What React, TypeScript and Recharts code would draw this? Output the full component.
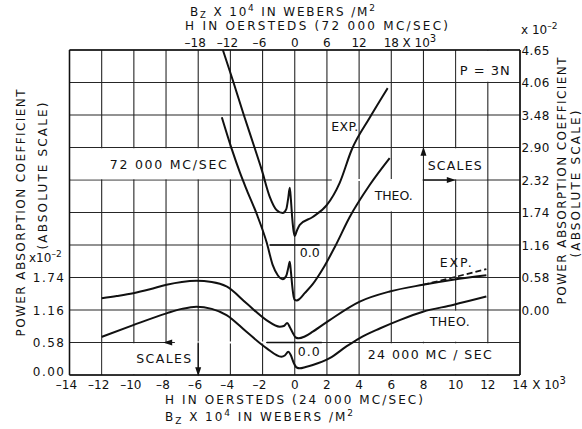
import React from 'react';
import {
  ComposedChart, Line, XAxis, YAxis, CartesianGrid,
  ReferenceArea, ReferenceLine, ReferenceDot,
} from 'recharts';

// ---------- axes ----------
const bottomTicks = [-14, -12, -10, -8, -6, -4, -2, 0, 2, 4, 6, 8, 10, 12, 14]; // H kOe (24 000 Mc/sec)
const topTicks = [-18, -12, -6, 0, 6, 12, 18]; // H kOe (72 000 Mc/sec)
const leftTicks = [0, 0.58, 1.16, 1.74]; // x10^-2, 24 000 Mc/sec scale
const rightTicks = [-1.16, -0.58, 0, 0.58, 1.16, 1.74, 2.32, 2.9, 3.48, 4.06, 4.64]; // x10^-2, 72 000 Mc/sec scale
const rightTickText: Record<string, string> = { '4.64': '4.65' };

// ---------- 72 000 Mc/sec (top H axis, right scale) ----------
const exp72: [number, number][] = [
  [-13.4, 4.64], [-11.55, 4.1], [-9.5, 3.48], [-7.64, 2.94], [-6.15, 2.5], [-4.66, 2.02],
  [-3.35, 1.78], [-2.24, 1.73], [-1.58, 1.8], [-1.21, 2.0], [-0.93, 2.18], [-0.71, 1.96],
  [-0.47, 1.64], [-0.19, 1.39], [0, 1.32], [0.37, 1.41], [0.93, 1.52], [3.35, 1.66],
  [5.96, 1.87], [8.38, 2.27], [10.62, 2.86], [13.97, 3.43], [17.33, 3.96],
];
const theo72: [number, number][] = [
  [-13.6, 3.44], [-11.74, 2.87], [-10.25, 2.46], [-8.94, 2.14], [-7.08, 1.71], [-5.22, 1.2],
  [-4.1, 0.8], [-3.17, 0.62], [-2.24, 0.55], [-1.58, 0.61], [-1.21, 0.75], [-0.93, 0.86],
  [-0.71, 0.68], [-0.47, 0.43], [-0.19, 0.23], [0, 0.18], [0.37, 0.17], [0.93, 0.2],
  [1.86, 0.3], [3.35, 0.46], [5.22, 0.73], [7.45, 1.12], [10.25, 1.66], [13.97, 2.23], [17.7, 2.71],
];

// ---------- 24 000 Mc/sec (bottom H axis, left scale) ----------
const exp24: [number, number][] = [
  [-12, 1.37], [-11.06, 1.41], [-10.04, 1.46], [-9, 1.53], [-7.97, 1.61], [-7.02, 1.66],
  [-6.11, 1.68], [-5.16, 1.66], [-4.24, 1.58], [-3, 1.28], [-1.76, 0.98], [-0.93, 0.862],
  [-0.68, 0.875], [-0.47, 0.928], [-0.31, 0.857], [-0.12, 0.75], [0.06, 0.669], [0.25, 0.655],
  [0.62, 0.687], [1.12, 0.773], [2.17, 0.98], [4.04, 1.31], [5.9, 1.49], [7.97, 1.61],
  [9.83, 1.7], [11.91, 1.78],
];
const exp24Dashed: [number, number][] = [[7.97, 1.61], [9.83, 1.74], [11.91, 1.89]];
const theo24: [number, number][] = [
  [-12, 0.68], [-10.04, 0.89], [-7.97, 1.1], [-7.02, 1.18], [-6.11, 1.22], [-5.16, 1.18],
  [-4.24, 1.07], [-3, 0.77], [-1.76, 0.48], [-0.83, 0.327], [-0.62, 0.348], [-0.4, 0.416],
  [-0.25, 0.357], [-0.06, 0.214], [0.12, 0.134], [0.31, 0.12], [0.68, 0.143], [1.12, 0.178],
  [2.17, 0.3], [3.21, 0.51], [4.04, 0.66], [5.28, 0.83], [6.52, 0.98], [7.97, 1.13],
  [9.83, 1.25], [11.91, 1.4],
];

const rows = (pts: [number, number][]) => pts.map(([x, y]) => ({ x, y }));

const F = '"DejaVu Sans", sans-serif';
const INK = '#111111';
const GRID = '#262626';

const BottomTick = (p: any) => {
  const v = p.payload.value;
  const s = String(Math.abs(v));
  const w = s.length * 7.2;
  const y = p.y + 14;
  return (
    <g fill={INK} fontFamily={F} fontSize={12}>
      <text x={p.x} y={y} textAnchor="middle">{s}</text>
      {v < 0 && <text x={p.x - w / 2 - 0.5} y={y} textAnchor="end">–</text>}
      {v === 14 && (
        <text x={p.x + w / 2 + 5} y={y}>X 10<tspan dy={-5} fontSize={10}>3</tspan></text>
      )}
    </g>
  );
};

const TopTick = (p: any) => {
  const v = p.payload.value;
  const s = String(Math.abs(v));
  const w = s.length * 7.2;
  const y = p.y - 3;
  return (
    <g fill={INK} fontFamily={F} fontSize={12}>
      <text x={p.x} y={y} textAnchor="middle">{s}</text>
      {v < 0 && <text x={p.x - w / 2 - 0.5} y={y} textAnchor="end">–</text>}
      {v === 18 && (
        <text x={p.x + w / 2 + 4} y={y}>X 10<tspan dy={-5} fontSize={10}>3</tspan></text>
      )}
    </g>
  );
};

const LeftTick = (p: any) => {
  const v = p.payload.value;
  const y = p.y + (v === 0 ? 0.5 : 4.5);
  return (
    <text x={p.x - 4} y={y} textAnchor="end" fill={INK} fontFamily={F} fontSize={12} letterSpacing={1.5}>
      {v.toFixed(2)}
    </text>
  );
};

const RightTick = (p: any) => {
  const v = p.payload.value;
  if (v < 0) return <g />;
  const key = String(v);
  return (
    <text x={p.x + 1.5} y={p.y + 4.5} fill={INK} fontFamily={F} fontSize={12} letterSpacing={0.4}>
      {rightTickText[key] ?? v.toFixed(2)}
    </text>
  );
};

const TopTitle = () => (
  <g fontFamily={F} fill={INK}>
    <text x={190} y={16} fontSize={12} textLength={185} lengthAdjust="spacing">
      B<tspan dy={2} fontSize={8.5}>Z</tspan><tspan dy={-2}> X 10</tspan>
      <tspan dy={-5} fontSize={9}>4</tspan><tspan dy={5}> IN WEBERS /M</tspan>
      <tspan dy={-5} fontSize={9}>2</tspan>
    </text>
    <text x={185} y={30} fontSize={12} textLength={263} lengthAdjust="spacing">
      H IN OERSTEDS (72 000 MC/SEC)
    </text>
  </g>
);

const BottomTitle = () => (
  <g fontFamily={F} fill={INK}>
    <text x={165} y={404} fontSize={12} textLength={258} lengthAdjust="spacing">
      H IN OERSTEDS (24 000 MC/SEC)
    </text>
    <text x={165} y={421} fontSize={12} textLength={188} lengthAdjust="spacing">
      B<tspan dy={3} fontSize={9}>Z</tspan><tspan dy={-3}> X 10</tspan>
      <tspan dy={-5} fontSize={9}>4</tspan><tspan dy={5}> IN WEBERS /M</tspan>
      <tspan dy={-5} fontSize={9}>2</tspan>
    </text>
  </g>
);

const RotText = ({ cx, cy, len, children }: any) => (
  <text
    x={cx} y={cy + 4.3} transform={`rotate(-90, ${cx}, ${cy})`} textAnchor="middle"
    fontSize={12} fontFamily={F} fill={INK} textLength={len} lengthAdjust="spacing"
  >
    {children}
  </text>
);

const LeftTitle = () => (
  <g>
    <RotText cx={21} cy={213} len={247}>POWER ABSORPTION COEFFICIENT</RotText>
    <RotText cx={43} cy={176} len={147}>(ABSOLUTE SCALE)</RotText>
    <text x={29} y={262} fontSize={12} fontFamily={F} fill={INK}>
      x10<tspan dy={-5} fontSize={9}>–2</tspan>
    </text>
  </g>
);

const RightTitle = () => (
  <g>
    <RotText cx={562} cy={181} len={247}>POWER ABSORPTION COEFFICIENT</RotText>
    <RotText cx={576} cy={184} len={147}>(ABSOLUTE SCALE)</RotText>
    <text x={521} y={34} fontSize={12} fontFamily={F} fill={INK}>
      x 10<tspan dy={-5} fontSize={9}>–2</tspan>
    </text>
  </g>
);

const textShape = (txt: string, len: number, fs = 12.5) => (p: any) => (
  <text
    x={p.cx} y={p.cy + fs * 0.36} textAnchor="middle" fontSize={fs} fontFamily={F}
    fill={INK} textLength={len} lengthAdjust="spacing"
  >
    {txt}
  </text>
);

const arrow = (dir: 'up' | 'down' | 'left' | 'right') => (p: any) => {
  const { cx, cy } = p;
  let d = '';
  if (dir === 'up') d = `M${cx},${cy - 4} L${cx - 3},${cy + 5} L${cx + 3},${cy + 5} Z`;
  if (dir === 'down') d = `M${cx},${cy + 4} L${cx - 3},${cy - 5} L${cx + 3},${cy - 5} Z`;
  if (dir === 'left') d = `M${cx - 4},${cy} L${cx + 5},${cy - 3} L${cx + 5},${cy + 3} Z`;
  if (dir === 'right') d = `M${cx + 4},${cy} L${cx - 5},${cy - 3} L${cx - 5},${cy + 3} Z`;
  return <path d={d} fill={INK} stroke="none" />;
};

const lineProps = {
  type: 'monotone' as const,
  dataKey: 'y',
  stroke: INK,
  strokeWidth: 2,
  dot: false,
  activeDot: false,
  isAnimationActive: false,
};

const white = { fill: '#ffffff', fillOpacity: 1, stroke: 'none', ifOverflow: 'visible' as const };

export default function App() {
  return (
    <div style={{ position: 'absolute', left: 0, top: 0, width: 582, height: 429, background: '#fff' }}>
      <ComposedChart width={582} height={429} margin={{ top: 20, right: 20, bottom: 30, left: 20 }}>
        <XAxis
          xAxisId="b" dataKey="x" type="number" domain={[-14, 14]} ticks={bottomTicks} interval={0}
          orientation="bottom" height={24} tickSize={0} tickMargin={0} tick={BottomTick}
          axisLine={{ stroke: INK, strokeWidth: 1.5 }} tickLine={false} label={<BottomTitle />}
        />
        <XAxis
          xAxisId="t" dataKey="x" type="number" domain={[-42, 42]} ticks={topTicks} interval={0}
          orientation="top" height={30} tickSize={0} tickMargin={0} tick={TopTick}
          axisLine={{ stroke: INK, strokeWidth: 1.5 }} tickLine={false} label={<TopTitle />}
        />
        <YAxis
          yAxisId="l" type="number" domain={[0, 5.8]} ticks={leftTicks} interval={0}
          orientation="left" width={49.5} tickSize={0} tickMargin={0} tick={LeftTick}
          axisLine={{ stroke: INK, strokeWidth: 1.5 }} tickLine={false} label={<LeftTitle />}
        />
        <YAxis
          yAxisId="r" type="number" domain={[-1.16, 4.64]} ticks={rightTicks} interval={0}
          orientation="right" width={42} tickSize={0} tickMargin={0} tick={RightTick}
          axisLine={{ stroke: INK, strokeWidth: 1.5 }} tickLine={false} label={<RightTitle />}
        />
        <CartesianGrid xAxisId="b" yAxisId="r" stroke={GRID} strokeWidth={1.1} />

        {/* label boxes that interrupt the grid */}
        <ReferenceArea xAxisId="b" yAxisId="r" x1={-13.94} x2={-2.06} y1={2.335} y2={2.885} {...white} />
        <ReferenceArea xAxisId="b" yAxisId="r" x1={10.06} x2={13.94} y1={4.075} y2={4.625} {...white} />
        <ReferenceArea xAxisId="b" yAxisId="r" x1={8.06} x2={11.94} y1={2.335} y2={2.885} {...white} />
        <ReferenceArea xAxisId="b" yAxisId="r" x1={2.3} x2={7.94} y1={2.3} y2={2.34} {...white} />
        <ReferenceArea xAxisId="b" yAxisId="r" x1={5.9} x2={6.1} y1={1.76} y2={2.31} {...white} />
        <ReferenceArea xAxisId="b" yAxisId="l" x1={6.06} x2={11.94} y1={0.595} y2={1.145} {...white} />
        <ReferenceArea xAxisId="b" yAxisId="l" x1={4.06} x2={13.94} y1={0.015} y2={0.565} {...white} />
        <ReferenceArea xAxisId="b" yAxisId="l" x1={-11.94} x2={-6.06} y1={0.015} y2={0.565} {...white} />
        <ReferenceArea xAxisId="b" yAxisId="l" x1={-7.45} x2={-1.78} y1={0.56} y2={0.6} {...white} />
        <ReferenceArea xAxisId="b" yAxisId="r" x1={-1.98} x2={-1.58} y1={1.14} y2={1.18} {...white} />

        <Line {...lineProps} xAxisId="t" yAxisId="r" data={rows(exp72)} />
        <Line {...lineProps} xAxisId="t" yAxisId="r" data={rows(theo72)} />
        <Line {...lineProps} xAxisId="b" yAxisId="l" data={rows(exp24)} />
        <Line {...lineProps} xAxisId="b" yAxisId="l" data={rows(exp24Dashed)} strokeDasharray="6 3" strokeWidth={1.7} />
        <Line {...lineProps} xAxisId="b" yAxisId="l" data={rows(theo24)} />

        {/* 0.0 reference marks */}
        <ReferenceLine xAxisId="b" yAxisId="r" segment={[{ x: -1.55, y: 1.16 }, { x: 1.55, y: 1.16 }]} stroke={INK} strokeWidth={1.3} />
        <ReferenceLine xAxisId="b" yAxisId="l" segment={[{ x: -1.74, y: 0.58 }, { x: 1.68, y: 0.58 }]} stroke={INK} strokeWidth={1.3} />

        {/* arrows */}
        <ReferenceLine xAxisId="b" yAxisId="r" segment={[{ x: 8, y: 2.32 }, { x: 9.6, y: 2.32 }]} stroke={INK} strokeWidth={1.3} />
        <ReferenceDot xAxisId="b" yAxisId="r" x={9.76} y={2.32} r={0} shape={arrow('right')} />
        <ReferenceDot xAxisId="b" yAxisId="r" x={8} y={2.84} r={0} shape={arrow('up')} />
        <ReferenceLine xAxisId="b" yAxisId="l" segment={[{ x: -6, y: 0.58 }, { x: -6, y: 0.1 }]} stroke={INK} strokeWidth={1.3} />
        <ReferenceDot xAxisId="b" yAxisId="l" x={-6} y={0.05} r={0} shape={arrow('down')} />
        <ReferenceDot xAxisId="b" yAxisId="l" x={-7.93} y={0.58} r={0} shape={arrow('left')} />

        {/* texts */}
        <ReferenceDot xAxisId="b" yAxisId="r" x={-7.86} y={2.59} r={0} shape={textShape('72 000  MC/SEC', 117)} />
        <ReferenceDot xAxisId="b" yAxisId="r" x={11.81} y={4.28} r={0} shape={textShape('P = 3N', 50, 13)} />
        <ReferenceDot xAxisId="b" yAxisId="r" x={9.94} y={2.57} r={0} shape={textShape('SCALES', 54)} />
        <ReferenceDot xAxisId="b" yAxisId="r" x={6.15} y={2.05} r={0} shape={textShape('THEO.', 38)} />
        <ReferenceDot xAxisId="b" yAxisId="r" x={3.11} y={3.27} r={0} shape={textShape('EXP.', 27)} />
        <ReferenceDot xAxisId="b" yAxisId="r" x={0.93} y={1.03} r={0} shape={textShape('0.0', 20)} />
        <ReferenceDot xAxisId="b" yAxisId="l" x={10.0} y={2.0} r={0} shape={textShape('EXP.', 32)} />
        <ReferenceDot xAxisId="b" yAxisId="l" x={9.63} y={0.946} r={0} shape={textShape('THEO.', 40)} />
        <ReferenceDot xAxisId="b" yAxisId="l" x={8.39} y={0.357} r={0} shape={textShape('24 000  MC / SEC', 124)} />
        <ReferenceDot xAxisId="b" yAxisId="l" x={0.87} y={0.428} r={0} shape={textShape('0.0', 22)} />
        <ReferenceDot xAxisId="b" yAxisId="l" x={-8.14} y={0.303} r={0} shape={textShape('SCALES', 55)} />
      </ComposedChart>
    </div>
  );
}
